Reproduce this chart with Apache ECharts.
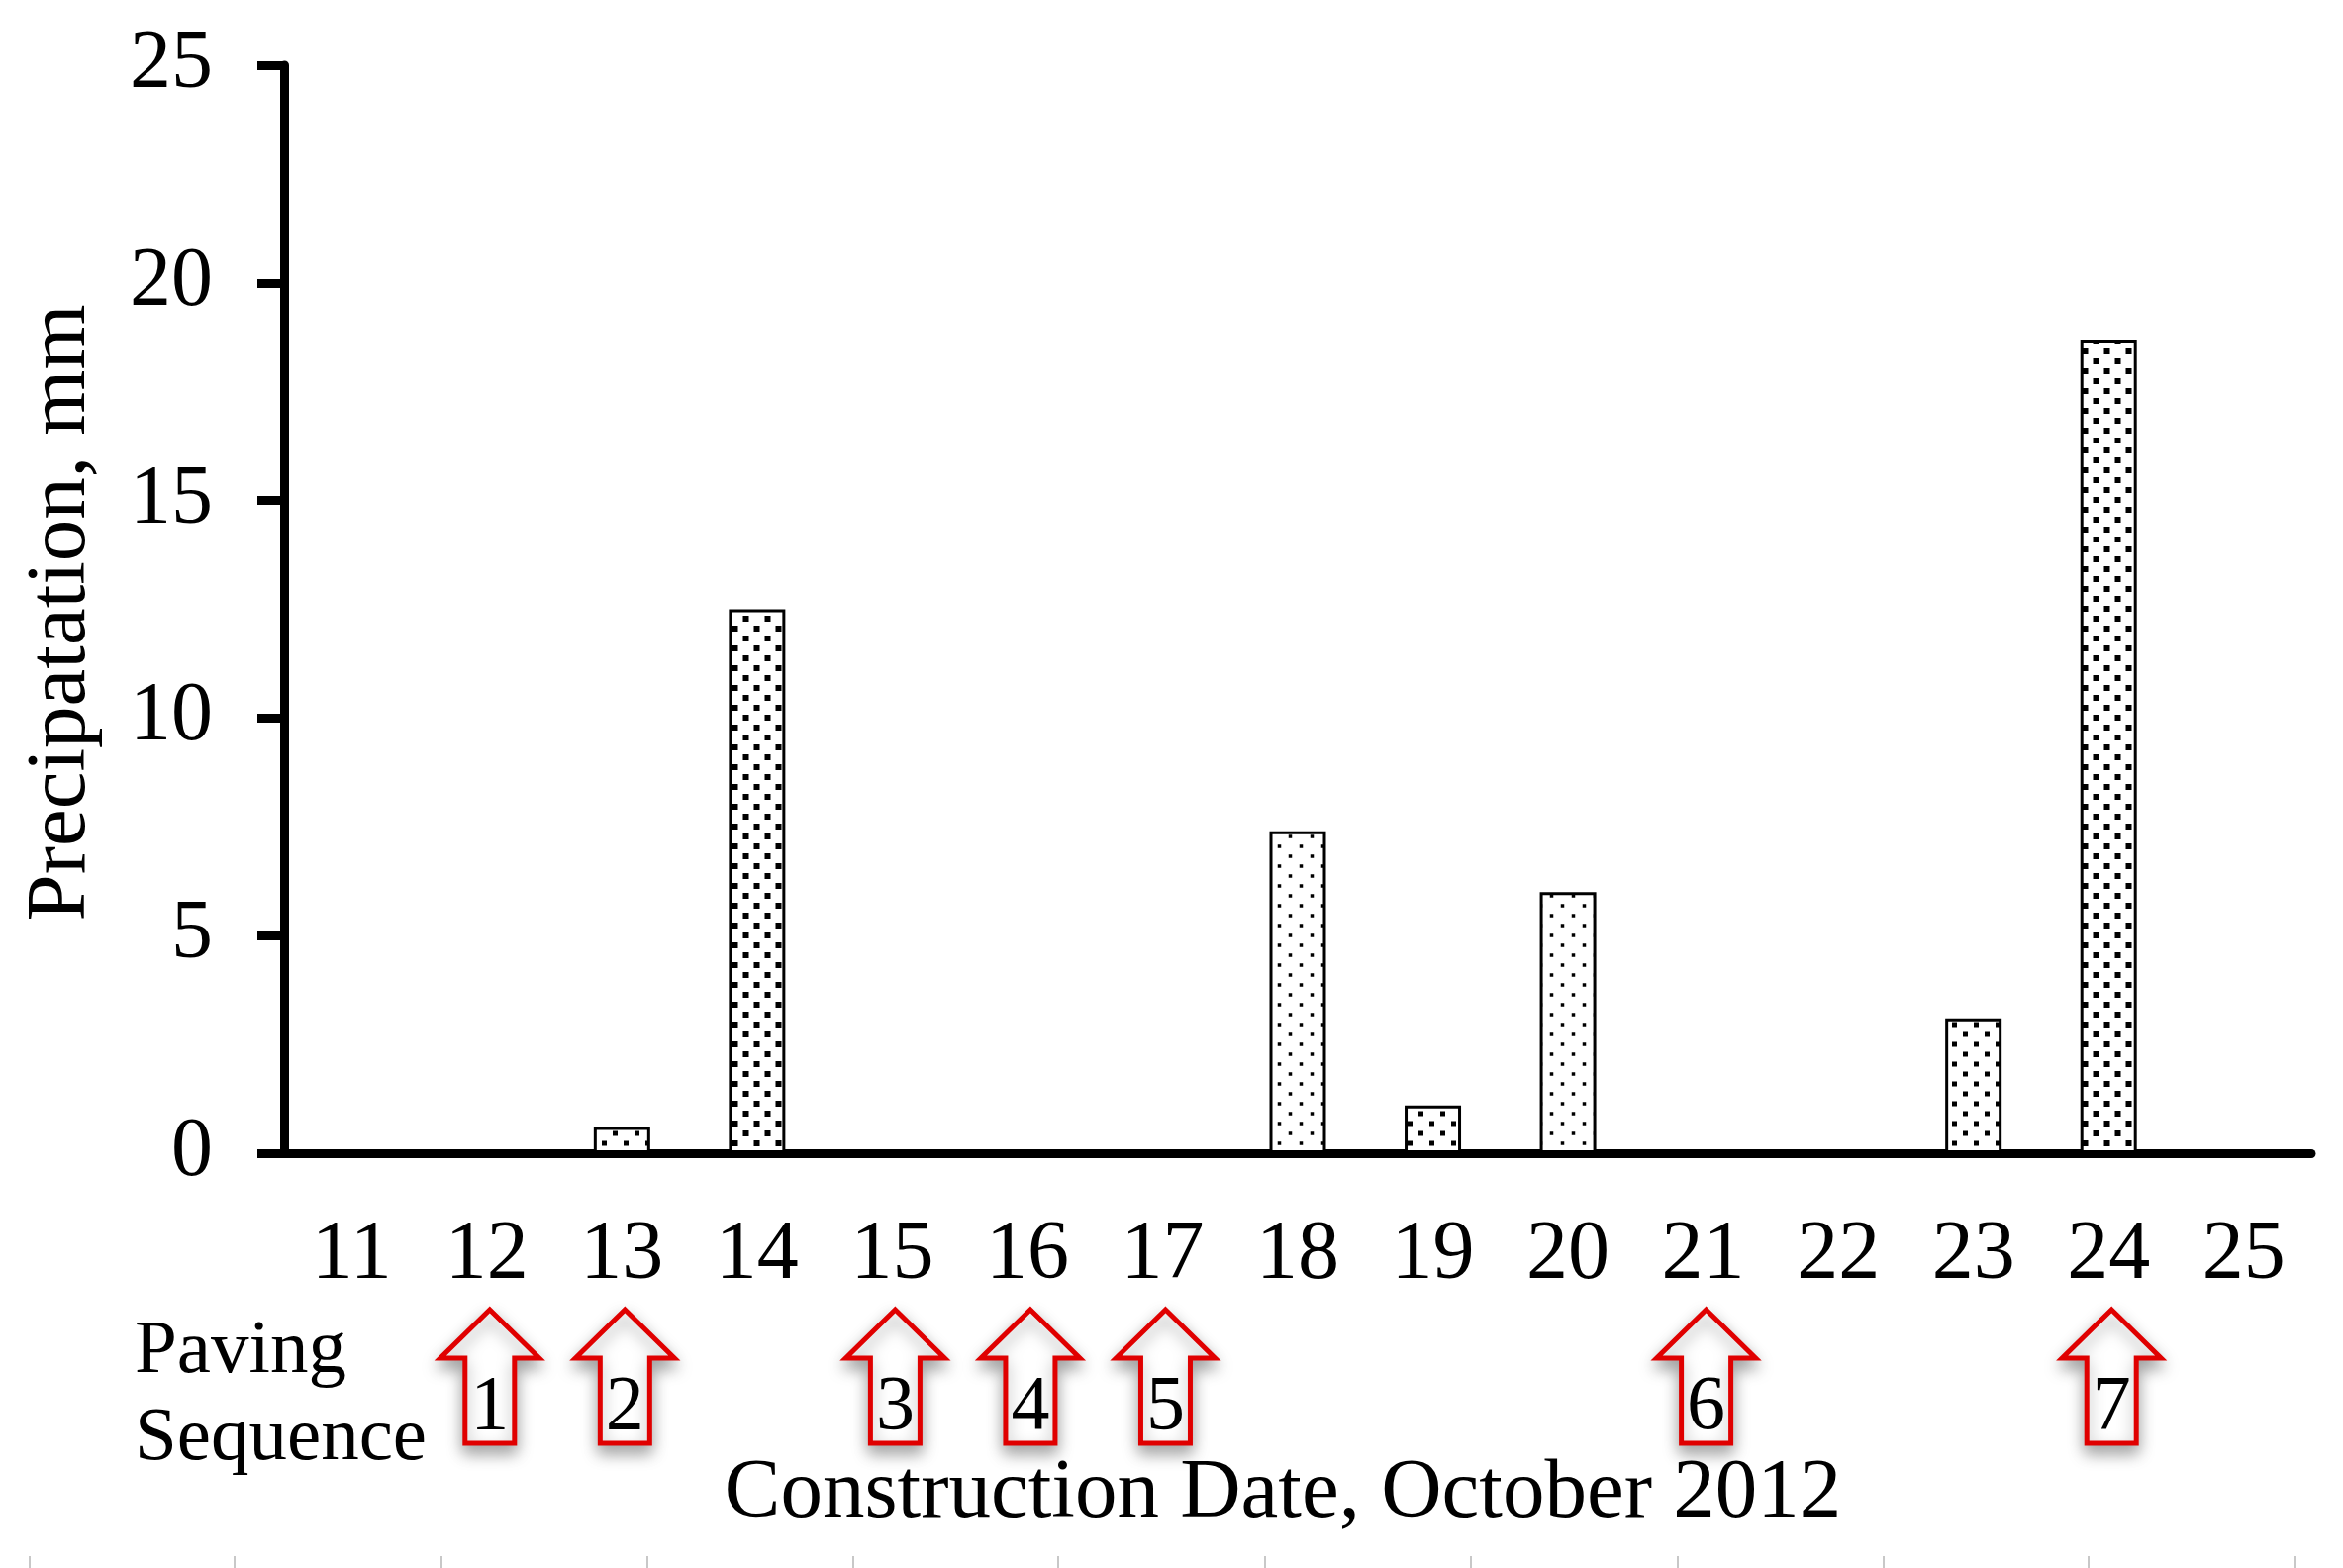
<!DOCTYPE html>
<html>
<head>
<meta charset="utf-8">
<script src="https://cdn.jsdelivr.net/npm/echarts@6/dist/echarts.min.js"></script>
<style>
  html, body { margin: 0; padding: 0; background: #fff; }
  #chart { width: 2367px; height: 1584px; }
</style>
</head>
<body>
<div id="chart"></div>
<script>
// ---- data ----
const days = ['11','12','13','14','15','16','17','18','19','20','21','22','23','24','25'];
const precipitation = [0, 0, 0.6, 12.5, 0, 0, 0, 7.4, 1.1, 6.0, 0, 0, 3.1, 18.7, 0];
const pavingDays = ['12','13','15','16','17','21','24'];
const pavingSeq = [1, 2, 3, 4, 5, 6, 7];
const yAxisTitle = 'Precipatation, mm';
const xAxisTitle = 'Construction Date, October 2012';
const pavingLabel = 'Paving\nSequence';

// ---- styling helpers ----
const FONT = '"Liberation Serif", "Times New Roman", serif';

function makePattern(dot) {
  const c = document.createElement('canvas');
  c.width = 22; c.height = 20;
  const ctx = c.getContext('2d');
  ctx.fillStyle = '#fff';
  ctx.fillRect(0, 0, 22, 20);
  ctx.fillStyle = '#000';
  ctx.fillRect(5.5 - dot / 2, 5 - dot / 2, dot, dot);
  ctx.fillRect(16.5 - dot / 2, 15 - dot / 2, dot, dot);
  return { image: c, repeat: 'repeat' };
}
const patDense = makePattern(6);
const patMed = makePattern(5);
const patLight = makePattern(3.5);
const styleByDay = { '14': patDense, '24': patDense, '13': patMed, '19': patMed, '23': patMed };

const barData = precipitation.map((v, i) => ({
  value: v,
  itemStyle: { color: styleByDay[days[i]] || patLight }
}));

const chart = echarts.init(document.getElementById('chart'), null, { renderer: 'canvas' });

const bottomMarks = [30, 237, 446, 654, 862, 1069, 1278, 1486, 1695, 1903, 2110, 2319].map(x => ({
  type: 'line',
  shape: { x1: x, y1: 1572, x2: x, y2: 1584 },
  style: { stroke: '#c8c8c8', lineWidth: 2 }
}));

chart.setOption({
  backgroundColor: '#fff',
  animation: false,
  grid: { left: 287, right: 32, top: 66, bottom: 419, containLabel: false },
  xAxis: {
    type: 'category',
    data: days,
    boundaryGap: true,
    axisLine: { show: true, lineStyle: { color: '#000', width: 9 } },
    axisTick: { show: false },
    axisLabel: { color: '#000', fontFamily: FONT, fontSize: 84, margin: 62 },
    splitLine: { show: false }
  },
  yAxis: {
    type: 'value',
    min: 0, max: 25, interval: 5,
    axisLine: { show: true, lineStyle: { color: '#000', width: 9 } },
    axisTick: { show: true, length: 27, lineStyle: { color: '#000', width: 9 } },
    axisLabel: { color: '#000', fontFamily: FONT, fontSize: 84, margin: 72 },
    splitLine: { show: false }
  },
  series: [
    {
      type: 'bar',
      data: barData,
      barWidth: 57,
      itemStyle: { borderColor: '#000', borderWidth: 3 },
      z: 3
    },
    {
      type: 'custom',
      clip: false,
      data: pavingDays.map((d, i) => [d, pavingSeq[i]]),
      encode: { x: 0, y: 1 },
      renderItem: function (params, api) {
        const p = api.coord([api.value(0), 0]);
        const cx = p[0] + 3, by = p[1];
        const tip = by + 158, hb = by + 207, bot = by + 293;
        const hw = 50, sw = 25;
        return {
          type: 'group',
          children: [
            {
              type: 'polygon',
              shape: { points: [[cx, tip], [cx + hw, hb], [cx + sw, hb], [cx + sw, bot], [cx - sw, bot], [cx - sw, hb], [cx - hw, hb]] },
              style: { fill: '#fff', stroke: '#e00000', lineWidth: 5, lineJoin: 'miter', shadowBlur: 16, shadowColor: 'rgba(0,0,0,0.35)', shadowOffsetY: 8 }
            },
            {
              type: 'text',
              style: { text: String(api.value(1)), x: cx, y: by + 258, align: 'center', verticalAlign: 'middle', font: '78px ' + FONT, fill: '#000' }
            }
          ]
        };
      },
      z: 4
    }
  ],
  graphic: [
    {
      type: 'text', x: 63, y: 619, rotation: Math.PI / 2,
      style: { text: yAxisTitle, align: 'center', verticalAlign: 'middle', font: '85px ' + FONT, fill: '#000' }
    },
    {
      type: 'text', x: 1296, y: 1510,
      style: { text: xAxisTitle, align: 'center', verticalAlign: 'middle', font: '85px ' + FONT, fill: '#000' }
    },
    {
      type: 'text', x: 136, y: 1410,
      style: { text: pavingLabel, align: 'left', verticalAlign: 'middle', font: '77px ' + FONT, lineHeight: 88, fill: '#000' }
    }
  ].concat(bottomMarks)
});
</script>
</body>
</html>
